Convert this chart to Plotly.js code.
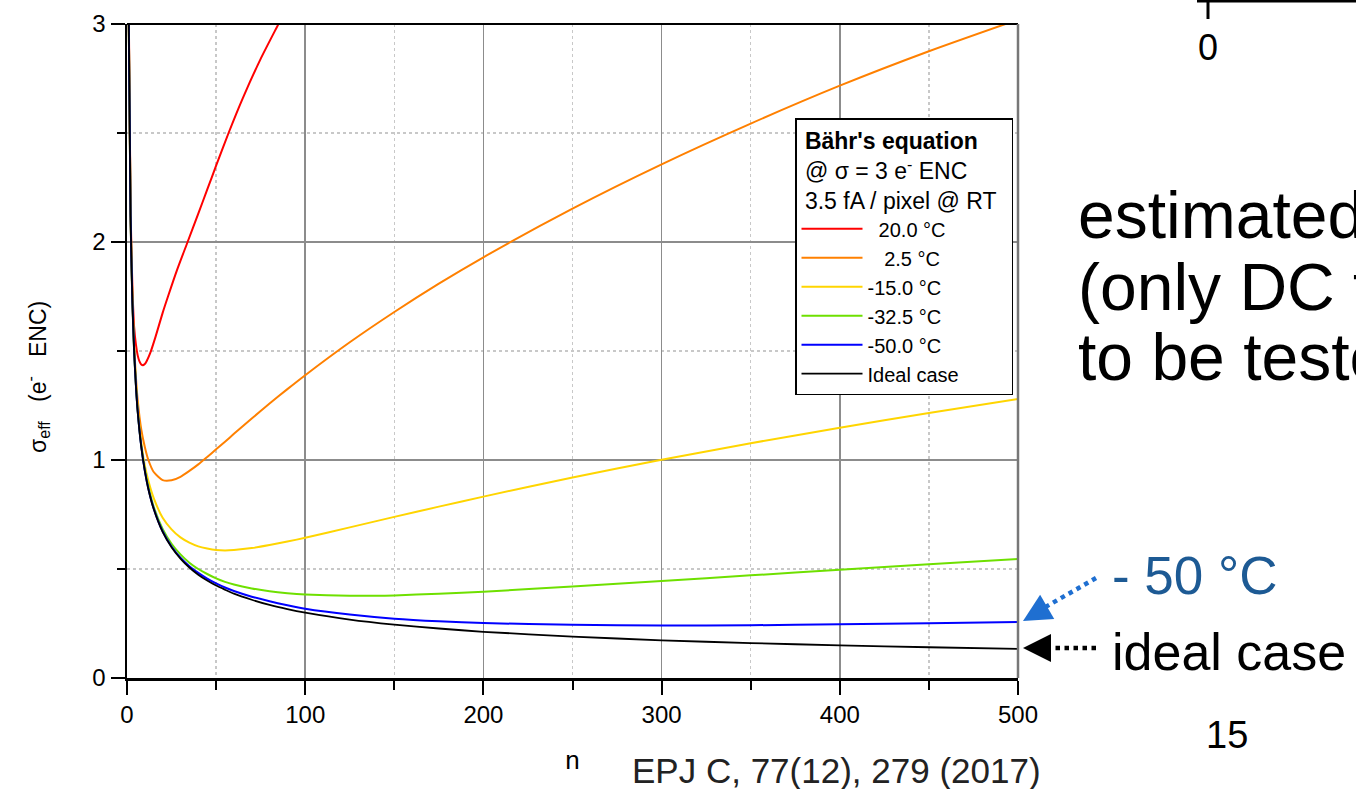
<!DOCTYPE html>
<html>
<head>
<meta charset="utf-8">
<script src="https://cdn.plot.ly/plotly-3.0.1.min.js"></script>
<style>html,body{margin:0;padding:0;background:#fff;}#chart{width:1356px;height:789px;}</style>
</head>
<body>
<div id="chart"></div>
<script>
// ---- data ----
const nVals = [1,2,3,4,5,6,8,10,12,15,20,25,30,35,40,45,50,55,60,70,80,90,100,125,150,175,200,250,300,350,400,450,500];
const nRed = [1,2,3,4,5,6,7,8,9,10,11,13,16,20,23,28,34,40,45,50,57,65,75,85,90];
const sigmaRed = [3.05,2.16,1.80,1.61,1.53,1.48,1.452,1.438,1.435,1.44,1.453,1.49,1.565,1.675,1.75,1.87,2.0,2.13,2.24,2.35,2.5,2.66,2.84,3.0,3.08];
const sigmaOrange = [3.01,2.13,1.75,1.525,1.38,1.275,1.14,1.06,1.0,0.945,0.908,0.907,0.923,0.95,0.98,1.014,1.049,1.084,1.12,1.19,1.259,1.325,1.389,1.54,1.679,1.809,1.93,2.153,2.356,2.543,2.717,2.875,3.02];
const sigmaYellow = [3.0,2.122,1.737,1.507,1.352,1.24,1.08,0.975,0.905,0.825,0.735,0.682,0.645,0.621,0.604,0.594,0.587,0.585,0.587,0.596,0.61,0.626,0.643,0.691,0.739,0.786,0.832,0.92,1.001,1.077,1.148,1.216,1.28];
const sigmaGreen = [3.0,2.12,1.733,1.50,1.345,1.228,1.066,0.957,0.877,0.785,0.684,0.616,0.567,0.529,0.5,0.477,0.457,0.441,0.429,0.411,0.398,0.389,0.383,0.377,0.379,0.387,0.396,0.42,0.445,0.471,0.496,0.522,0.546];
const sigmaBlue = [3.0,2.12,1.732,1.50,1.342,1.225,1.062,0.95,0.868,0.777,0.673,0.603,0.552,0.513,0.482,0.456,0.434,0.415,0.399,0.373,0.352,0.334,0.318,0.291,0.272,0.26,0.252,0.244,0.241,0.242,0.246,0.251,0.257];
const sigmaIdeal = [3.0,2.12,1.73,1.5,1.34,1.22,1.06,0.95,0.866,0.775,0.67,0.6,0.548,0.507,0.474,0.447,0.424,0.405,0.387,0.359,0.335,0.316,0.3,0.268,0.245,0.227,0.212,0.19,0.173,0.16,0.15,0.141,0.134];
const seriesNames = ['\u00a0\u00a020.0 °C','\u00a0\u00a0\u00a02.5 °C','-15.0 °C','-32.5 °C','-50.0 °C','Ideal case'];
const xTicks = [0,100,200,300,400,500];
const yTicks = [0,1,2,3];

// ---- styling ----
const FONT = 'Liberation Sans, Arial, Helvetica, sans-serif';
const colors = ['#ff0000','#ff8000','#ffd500','#6ee000','#0000ff','#000000'];
const ys = [sigmaRed,sigmaOrange,sigmaYellow,sigmaGreen,sigmaBlue,sigmaIdeal];
const traces = ys.map((y,i)=>({
  type:'scatter', mode:'lines',
  x: i===0 ? nRed : nVals, y: y,
  name: seriesNames[i],
  line:{color:colors[i], width: i===5 ? 1.8 : 2, shape:'spline', smoothing:0.6}
}));

// pixel -> paper helpers for decorations
const L=127, R=1018, T=24, B=678;
const px = x => (x-L)/(R-L);
const py = y => (B-y)/(B-T);

const axisCommon = {
  ticks:'outside', ticklen:14, tickwidth:2, tickcolor:'#000',
  showline:true, linecolor:'#000', linewidth:2.5,
  showgrid:true, gridcolor:'#8c8c8c', gridwidth:1.5,
  zeroline:false, tickfont:{size:24, color:'#000', family:FONT},
  fixedrange:true
};

const NB = '\u00a0';
const layout = {
  width:1356, height:789,
  margin:{l:L, r:1356-R, t:T, b:789-B, pad:0},
  paper_bgcolor:'#fff', plot_bgcolor:'#fff',
  font:{family:FONT, color:'#000'},
  showlegend:true,
  xaxis: Object.assign({}, axisCommon, {
    range:[0,500], tickmode:'array', tickvals:xTicks, ticktext:xTicks.map(String),
    minor:{dtick:50, tick0:0, ticks:'outside', ticklen:9, tickwidth:2, tickcolor:'#000',
           showgrid:true, gridcolor:'#c8c8c8', griddash:'dot', gridwidth:1.5},
    title:{text:'n', font:{size:26, family:FONT}, standoff:24}
  }),
  yaxis: Object.assign({}, axisCommon, {
    range:[0,3], tickmode:'array', tickvals:yTicks, ticktext:yTicks.map(String),
    ticklabelstandoff:0,
    minor:{dtick:0.5, tick0:0, ticks:'outside', ticklen:8, tickwidth:2, tickcolor:'#000',
           showgrid:true, gridcolor:'#c8c8c8', griddash:'dot', gridwidth:1.5}
  }),
  legend:{
    x:px(795), y:py(118), xanchor:'left', yanchor:'top',
    bgcolor:'#fff', bordercolor:'#000', borderwidth:1.5,
    font:{size:20, family:FONT, color:'#000'},
    title:{text:NB+"<b>Bähr's equation</b><br>"+NB+"@ σ = 3 e<sup>-</sup> ENC<br>"+NB+"3.5 fA / pixel @ RT"+NB+NB, font:{size:23, family:FONT}},
    itemwidth:61, tracegroupgap:0
  },
  shapes:[
    {type:'line', xref:'paper', yref:'paper', x0:0, x1:1, y0:1, y1:1, line:{color:'#000', width:2}},
    {type:'line', xref:'paper', yref:'paper', x0:1, x1:1, y0:0, y1:1, line:{color:'#777', width:2.5}},
    // fragment of neighbouring chart (top right)
    {type:'line', xref:'paper', yref:'paper', x0:px(1197), x1:px(1360), y0:py(1), y1:py(1), line:{color:'#000', width:3}},
    {type:'line', xref:'paper', yref:'paper', x0:px(1208), x1:px(1208), y0:py(0), y1:py(19), line:{color:'#000', width:3}},
    // dotted arrow shafts
    {type:'line', xref:'paper', yref:'paper', x0:px(1096), y0:py(578), x1:px(1042), y1:py(609), line:{color:'#1f6fd1', width:4.5, dash:'dot'}},
    {type:'line', xref:'paper', yref:'paper', x0:px(1096), y0:py(648), x1:px(1042), y1:py(648), line:{color:'#000', width:4.5, dash:'dot'}}
  ],
  annotations:[
    {xref:'paper', yref:'paper', x:px(37), y:py(377), text:'σ<sub>eff</sub>'+NB+NB+NB+'(e<sup>-</sup>'+NB+NB+NB+'ENC)', textangle:-90,
     showarrow:false, xanchor:'center', yanchor:'middle', font:{size:23, family:FONT, color:'#000'}},
    {xref:'paper', yref:'paper', x:px(630), y:py(770), text:'EPJ C, 77(12), 279 (2017)', showarrow:false,
     xanchor:'left', yanchor:'middle', font:{size:35, family:FONT, color:'#222'}},
    {xref:'paper', yref:'paper', x:px(1110), y:py(575), text:'- 50 °C', showarrow:false,
     xanchor:'left', yanchor:'middle', font:{size:53, family:FONT, color:'#1d5a94'}},
    {xref:'paper', yref:'paper', x:px(1110), y:py(652), text:'ideal case', showarrow:false,
     xanchor:'left', yanchor:'middle', font:{size:52, family:FONT, color:'#000'}},
    {xref:'paper', yref:'paper', x:px(1076), y:py(215), text:'estimated', showarrow:false,
     xanchor:'left', yanchor:'middle', font:{size:66, family:FONT, color:'#000'}},
    {xref:'paper', yref:'paper', x:px(1076), y:py(287), text:'(only DC from', showarrow:false,
     xanchor:'left', yanchor:'middle', font:{size:66, family:FONT, color:'#000'}},
    {xref:'paper', yref:'paper', x:px(1076), y:py(357), text:'to be tested', showarrow:false,
     xanchor:'left', yanchor:'middle', font:{size:66, family:FONT, color:'#000'}},
    {xref:'paper', yref:'paper', x:px(1208), y:py(47), text:'0', showarrow:false,
     xanchor:'center', yanchor:'middle', font:{size:36, family:FONT, color:'#000'}},
    {xref:'paper', yref:'paper', x:px(1227), y:py(735), text:'15', showarrow:false,
     xanchor:'center', yanchor:'middle', font:{size:38, family:FONT, color:'#000'}},
    // arrow heads
    {xref:'paper', yref:'paper', x:px(1023), y:py(621), text:'', showarrow:true, ax:24, ay:-14,
     arrowhead:2, arrowsize:1.4, arrowwidth:4, arrowcolor:'#1f6fd1', standoff:0},
    {xref:'paper', yref:'paper', x:px(1023), y:py(648), text:'', showarrow:true, ax:24, ay:0,
     arrowhead:2, arrowsize:1.4, arrowwidth:4, arrowcolor:'#000', standoff:0}
  ]
};

Plotly.newPlot('chart', traces, layout, {displayModeBar:false, staticPlot:true});
</script>
</body>
</html>
